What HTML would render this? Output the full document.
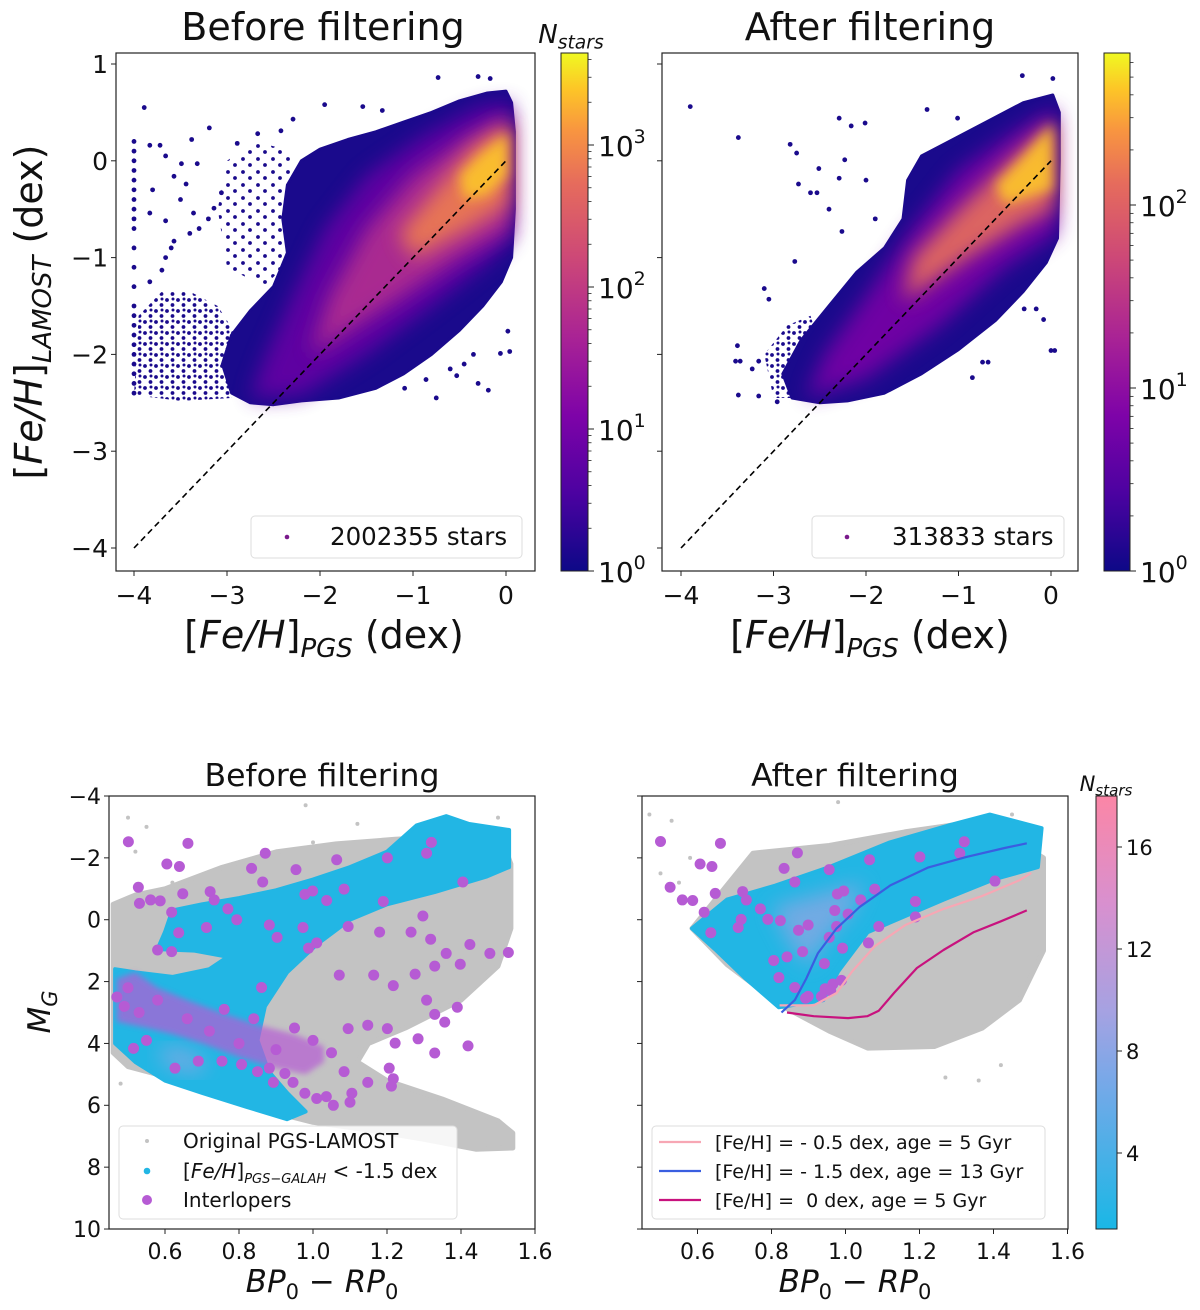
<!DOCTYPE html>
<html><head><meta charset="utf-8">
<style>
html,body{margin:0;padding:0;background:#fff;}
svg{display:block;font-family:"DejaVu Sans","Liberation Sans",sans-serif;}
</style></head>
<body>
<svg id="fig" width="1200" height="1310" viewBox="0 0 1200 1310" xmlns="http://www.w3.org/2000/svg">
<defs>
<linearGradient id="plasma" x1="0" y1="1" x2="0" y2="0">
<stop offset="0" stop-color="#0d0887"/><stop offset="0.15" stop-color="#4c02a1"/><stop offset="0.3" stop-color="#7e03a8"/><stop offset="0.45" stop-color="#a92395"/><stop offset="0.6" stop-color="#cc4778"/><stop offset="0.75" stop-color="#e66c5c"/><stop offset="0.85" stop-color="#f89540"/><stop offset="0.93" stop-color="#fdc527"/><stop offset="1" stop-color="#f0f921"/>
</linearGradient>
<linearGradient id="cyanpink" x1="0" y1="1" x2="0" y2="0">
<stop offset="0" stop-color="#1ab7e6"/><stop offset="0.35" stop-color="#7aa8e8"/><stop offset="0.5" stop-color="#a5a2e2"/><stop offset="0.75" stop-color="#d890cf"/><stop offset="1" stop-color="#fb86a6"/>
</linearGradient>
<pattern id="speckle" x="0" y="0" width="11" height="11" patternUnits="userSpaceOnUse">
<circle cx="2" cy="3" r="1.9" fill="#1a0a8c"/><circle cx="7.5" cy="8" r="1.9" fill="#1a0a8c"/><circle cx="8" cy="2" r="1.5" fill="#1a0a8c"/>
</pattern>
<pattern id="speckle2" x="0" y="0" width="15" height="13" patternUnits="userSpaceOnUse">
<circle cx="3" cy="3" r="1.9" fill="#1a0a8c"/><circle cx="10" cy="9" r="1.9" fill="#1a0a8c"/>
</pattern>
<filter id="blur3" x="-20%" y="-20%" width="140%" height="140%"><feGaussianBlur stdDeviation="3"/></filter>
<filter id="blur6" x="-20%" y="-20%" width="140%" height="140%"><feGaussianBlur stdDeviation="6"/></filter>
<filter id="blur10" x="-20%" y="-20%" width="140%" height="140%"><feGaussianBlur stdDeviation="10"/></filter>
<clipPath id="clipTL"><rect x="116" y="53" width="419" height="518"/></clipPath>
<clipPath id="clipTR"><rect x="662" y="53" width="416" height="518"/></clipPath>
<clipPath id="clipBL"><rect x="109" y="796" width="426" height="433"/></clipPath>
<clipPath id="clipBR"><rect x="642" y="796" width="426" height="433"/></clipPath>
</defs>
<g id="root"></g>
</svg>
<script>
// ---------- data arrays ----------
const tlEnvelope = [[-2.95,-2.4],[-2.75,-2.5],[-2.5,-2.52],[-2.2,-2.48],[-1.8,-2.45],[-1.4,-2.35],[-1.1,-2.2],[-0.8,-2.0],[-0.5,-1.75],[-0.25,-1.5],[-0.05,-1.25],[0.06,-1.0],[0.09,-0.5],[0.09,0.3],[0.06,0.6],[0.0,0.72],[-0.2,0.7],[-0.5,0.62],[-0.8,0.5],[-1.1,0.4],[-1.4,0.3],[-1.7,0.22],[-2.0,0.12],[-2.2,0.0],[-2.35,-0.25],[-2.4,-0.6],[-2.35,-0.95],[-2.5,-1.3],[-2.75,-1.55],[-2.95,-1.8],[-3.05,-2.1]];
const tlSparse1 = [[-4.0,-2.42],[-3.95,-1.6],[-3.7,-1.35],[-3.4,-1.35],[-3.1,-1.5],[-2.9,-1.8],[-2.95,-2.45],[-3.5,-2.48]];
const tlSparse2 = [[-3.0,-1.1],[-3.1,-0.5],[-3.0,0.0],[-2.7,0.2],[-2.3,0.1],[-2.35,-0.6],[-2.3,-1.0],[-2.6,-1.3]];
const tlPurple = [[-2.75,-2.45],[-2.2,-2.42],[-1.5,-2.0],[-0.8,-1.5],[-0.2,-1.05],[0.06,-0.8],[0.06,0.6],[-0.3,0.55],[-0.9,0.25],[-1.5,-0.15],[-1.95,-0.7],[-2.3,-1.4],[-2.6,-2.05]];
const tlMagenta = [[-2.1,-2.0],[-1.2,-1.45],[-0.5,-1.0],[0.05,-0.7],[0.05,0.45],[-0.4,0.25],[-1.0,-0.15],[-1.5,-0.7],[-1.9,-1.4]];
const tlOrange = [[-1.0,-1.0],[-0.4,-0.7],[0.03,-0.45],[0.03,0.4],[-0.35,0.15],[-0.8,-0.35],[-1.15,-0.75]];
const tlYellow = [[-0.45,-0.4],[-0.2,-0.35],[0.02,-0.15],[0.02,0.3],[-0.3,0.05],[-0.5,-0.15]];
const tlColumnY = [0.2,0.1,0.0,-0.1,-0.2,-0.3,-0.4,-0.5,-0.6,-0.7,-0.9,-1.1,-1.3,-1.5,-1.6,-1.7,-1.8,-1.9,-2.0,-2.1,-2.2,-2.3,-2.4];
const tlScatterX = [-3.89,-3.19,-3.83,-3.72,-3.38,-3.66,-3.49,-3.32,-3.57,-3.44,-3.83,-3.66,-3.57,-3.7,-3.83,-3.66,-3.36,-3.14,-3.06,-2.89,-2.67,-2.42,-2.29,-1.95,-1.54,-1.33,-0.73,-0.3,-0.17,0.02,-0.06,0.04,-0.19,-0.3,-0.53,-0.75,-0.86,-1.09,-3.6,-3.4,-3.2,-3.5,-3.8,-3.3,-0.45,-0.6,-0.35];
const tlScatterY = [0.55,0.34,0.16,0.16,0.22,0.05,-0.03,-0.03,-0.16,-0.24,-0.54,-0.62,-0.83,-1.13,-1.25,-1.0,-0.54,-0.49,-0.33,0.18,0.28,0.31,0.43,0.58,0.56,0.52,0.86,0.87,0.85,-1.76,-1.99,-1.97,-2.37,-2.3,-2.22,-2.45,-2.26,-2.35,-0.9,-0.75,-0.6,-0.4,-0.3,-0.7,-2.1,-2.15,-2.0];
const trEnvelope = [[-2.8,-2.45],[-2.5,-2.5],[-2.2,-2.48],[-1.8,-2.4],[-1.4,-2.2],[-1.0,-1.95],[-0.6,-1.65],[-0.3,-1.35],[-0.05,-1.05],[0.07,-0.8],[0.09,0.0],[0.09,0.5],[0.02,0.68],[-0.3,0.6],[-0.7,0.4],[-1.1,0.2],[-1.4,0.05],[-1.55,-0.2],[-1.6,-0.6],[-1.8,-0.9],[-2.1,-1.15],[-2.4,-1.5],[-2.7,-1.85],[-2.9,-2.2]];
const trSparse = [[-3.0,-2.45],[-3.1,-2.0],[-2.85,-1.7],[-2.6,-1.6],[-2.5,-1.9],[-2.8,-2.45]];
const trPurple = [[-2.65,-2.45],[-2.0,-2.25],[-1.2,-1.7],[-0.5,-1.1],[0.06,-0.75],[0.06,0.55],[-0.4,0.3],[-1.0,-0.1],[-1.5,-0.7],[-2.0,-1.4],[-2.45,-2.0]];
const trOrange = [[-1.6,-1.45],[-0.9,-1.0],[-0.3,-0.65],[0.03,-0.5],[0.03,0.4],[-0.4,0.05],[-1.0,-0.5],[-1.5,-1.0]];
const trYellow = [[-0.5,-0.45],[0.02,-0.3],[0.02,0.4],[-0.3,0.05],[-0.6,-0.25]];
const trScatterX = [-3.9,-3.38,-2.29,-2.82,-2.75,-2.51,-2.73,-2.6,-2.53,-2.29,-2.23,-2.16,-2.01,-2.26,-2.77,-3.1,-3.05,-3.39,-3.41,-3.36,-3.23,-3.16,-3.38,-3.16,-2.96,-0.31,0.02,-1.34,-1.01,0.0,0.04,-0.74,-0.68,-0.85,-0.08,-0.29,-0.16,-2.4,-2.0,-1.9];
const trScatterY = [0.56,0.24,0.44,0.17,0.08,-0.08,-0.24,-0.33,-0.33,-0.18,0.01,0.36,0.39,-0.73,-1.04,-1.32,-1.43,-1.91,-2.07,-2.07,-2.15,-2.07,-2.42,-2.43,-2.49,0.88,0.85,0.53,0.44,-1.96,-1.96,-2.08,-2.08,-2.24,-1.64,-1.53,-1.53,-0.5,-0.2,-0.6];
const blGray = [[0.46,-0.5],[0.52,-0.8],[0.6,-1.0],[0.754,-1.69],[0.903,-2.2],[1.063,-2.45],[1.222,-2.6],[1.382,-2.7],[1.51,-2.6],[1.535,-1.8],[1.535,0.28],[1.5,1.5],[1.4,2.6],[1.25,3.5],[1.15,4.0],[1.12,4.6],[1.2,5.2],[1.35,5.8],[1.5,6.5],[1.54,6.9],[1.54,7.38],[1.44,7.42],[1.3,7.1],[1.15,6.8],[1.0,6.55],[0.9,6.25],[0.8,5.9],[0.68,5.45],[0.58,5.0],[0.5,4.75],[0.46,4.3]];
const blCyan = [[0.465,1.6],[0.465,4.0],[0.52,4.6],[0.6,5.2],[0.7,5.6],[0.82,6.05],[0.93,6.45],[0.98,6.2],[0.93,5.6],[0.88,4.9],[0.85,3.9],[0.87,2.8],[0.93,1.7],[1.01,0.8],[1.1,0.0],[1.2,-0.5],[1.33,-0.9],[1.47,-1.4],[1.53,-1.7],[1.53,-2.9],[1.42,-3.1],[1.36,-3.35],[1.28,-3.05],[1.2,-2.2],[1.1,-1.7],[1.0,-1.3],[0.9,-0.95],[0.8,-0.7],[0.7,-0.5],[0.62,-0.3],[0.6,0.4],[0.58,0.95],[0.68,1.0],[0.77,1.2],[0.72,1.6],[0.62,1.85],[0.52,1.7]];
const blLavender = [[0.58,4.1],[0.66,4.2],[0.72,4.7],[0.68,5.0],[0.6,4.7]];
const blGrayDotsX = [0.5,0.55,0.98,1.12,1.5,0.52,1.0,0.48,0.62];
const blGrayDotsY = [-3.3,-3.0,-3.7,-3.1,-3.3,-2.2,-2.5,5.3,-1.2];
const blBlobInterlopers = [[0.47,1.9],[0.52,1.7],[0.58,2.2],[0.66,2.6],[0.75,3.0],[0.85,3.4],[0.95,3.7],[1.03,4.1],[1.03,4.6],[0.98,5.0],[0.9,4.8],[0.8,4.45],[0.7,4.0],[0.62,3.7],[0.55,3.5],[0.47,3.3]];
const blIntX = [0.501,0.662,0.871,0.605,0.639,0.834,0.954,1.064,1.201,1.307,1.32,0.528,0.531,0.561,0.587,0.648,0.618,0.722,0.733,0.77,0.864,0.978,0.999,1.037,1.084,1.19,1.405,1.297,0.794,0.712,0.637,0.58,0.618,0.882,0.903,0.973,1.01,0.988,1.095,1.18,1.265,1.318,1.36,1.424,1.478,1.528,1.329,1.398,1.276,1.164,1.071,0.861,1.217,1.307,1.39,1.329,1.356,1.419,1.329,1.284,1.201,1.222,1.148,1.095,1.206,1.217,1.212,1.148,1.084,1.105,1.1,1.055,1.036,1.01,0.978,0.946,0.924,0.893,0.882,0.85,0.807,0.754,0.69,0.627,0.515,0.49,0.5,0.53,0.76,0.84,0.95,1.0,0.72,0.66,0.58,0.9,1.05,0.8,0.47,0.55];
const blIntY = [-2.52,-2.47,-2.15,-1.8,-1.72,-1.66,-1.62,-1.94,-2.0,-2.15,-2.5,-1.05,-0.53,-0.64,-0.61,-0.84,-0.24,-0.91,-0.64,-0.35,-1.22,-0.82,-0.93,-0.62,-0.99,-0.59,-1.22,-0.12,0.0,0.25,0.42,0.98,1.03,0.17,0.57,0.25,0.75,0.92,0.22,0.4,0.4,0.63,1.09,0.8,1.09,1.06,1.5,1.44,1.76,1.79,1.79,2.19,2.13,2.6,2.83,3.06,3.31,4.08,4.31,3.85,3.52,3.99,3.41,3.52,4.8,5.14,5.38,5.26,4.91,5.61,5.9,6.0,5.72,5.78,5.61,5.26,4.97,5.26,4.8,4.91,4.68,4.57,4.57,4.8,4.16,2.8,2.2,3.0,2.9,3.2,3.5,3.9,3.6,3.2,2.6,4.2,4.3,4.0,2.5,3.9];
const brGray = [[0.585,0.28],[0.75,-2.15],[0.956,-2.4],[1.16,-2.84],[1.37,-3.2],[1.535,-2.0],[1.535,1.0],[1.47,2.6],[1.37,3.5],[1.24,4.1],[1.06,4.15],[0.956,3.6],[0.83,2.8],[0.68,1.45]];
const brCyan = [[0.585,0.28],[0.68,-0.65],[0.81,-1.1],[0.956,-1.7],[1.12,-2.5],[1.285,-3.07],[1.39,-3.4],[1.53,-2.96],[1.52,-1.7],[1.4,-1.3],[1.265,-0.65],[1.06,0.4],[0.98,1.67],[0.94,2.6],[0.82,2.83],[0.73,1.9],[0.647,0.95]];
const brLavender = [[0.8,-0.4],[0.95,-0.9],[1.05,-1.2],[1.02,-0.3],[0.95,0.6],[0.9,1.5],[0.85,0.8]];
const brGrayDotsX = [0.47,0.53,0.58,0.98,1.26,1.45,0.5,0.55,1.27,1.42,1.36];
const brGrayDotsY = [-3.4,-3.2,-2.0,-3.8,-2.8,-3.4,-1.5,-1.2,5.1,4.7,5.2];
const brIntX = [0.5,0.662,0.607,0.639,0.526,0.648,0.559,0.587,0.618,0.636,0.722,0.732,0.77,0.71,0.79,0.824,0.834,0.863,0.87,0.956,0.978,0.995,0.971,1.007,1.041,1.079,1.065,0.873,0.899,0.976,0.956,0.992,1.062,1.09,0.884,0.842,0.82,0.863,0.943,0.966,0.989,0.945,0.96,0.899,0.935,0.892,1.189,1.189,1.201,1.309,1.321,1.404,0.806,0.718];
const brIntY = [-2.53,-2.47,-1.8,-1.72,-1.05,-0.85,-0.64,-0.62,-0.24,0.42,-0.91,-0.64,-0.35,0.25,-0.01,0.03,-1.66,-1.22,-2.16,-1.62,-0.83,-0.93,-0.3,-0.18,-0.64,-0.99,-1.94,0.34,0.17,0.22,0.57,0.92,0.75,0.22,1.03,1.2,1.87,2.19,1.42,2.08,1.96,2.23,2.3,2.48,2.48,2.54,-0.59,-0.09,-2.03,-2.15,-2.52,-1.25,1.32,-0.01];
const isoPinkX = [0.822,0.914,0.976,1.018,1.079,1.162,1.265,1.368,1.471,1.502];
const isoPinkY = [2.77,2.77,2.37,1.67,0.86,0.17,-0.35,-0.76,-1.28,-1.51];
const isoBlueX = [0.827,0.863,0.894,0.925,0.976,1.038,1.121,1.224,1.327,1.43,1.49];
const isoBlueY = [3.0,2.6,1.9,1.09,0.28,-0.41,-1.11,-1.69,-2.03,-2.32,-2.47];
const isoMagX = [0.842,0.914,1.007,1.059,1.09,1.131,1.193,1.265,1.347,1.42,1.49];
const isoMagY = [3.0,3.12,3.18,3.12,2.94,2.37,1.56,0.98,0.4,0.05,-0.3];
const feTicks = [-4,-3,-2,-1,0];
const feYTicks = [1,0,-1,-2,-3,-4];
const colTicks = [0.6,0.8,1.0,1.2,1.4,1.6];
const mgTicks = [-4,-2,0,2,4,6,8,10];
const cbLogTL = [0,1,2,3];
const cbLogTR = [0,1,2];
const cbLinBR = [4,8,12,16];

// ---------- scales ----------
const xTL = v => 134 + (v + 4) * 93;
const xTR = v => 681 + (v + 4) * 92.5;
const yTop = v => 548 - (v + 4) * 96.8;
const xBL = v => 165 + (v - 0.6) * 370;
const xBR = v => 697.5 + (v - 0.6) * 370;
const yBot = v => 796 + (v + 4) * 30.93;
const cbTL = v => 571 - v * 142;
const cbTR = v => 571 - v * 183;
const cbBR = v => 1153 - (v - 4) * 25.5;

const NS = "http://www.w3.org/2000/svg";
const root = document.getElementById('root');
function mk(tag, parent) { const e = document.createElementNS(NS, tag); parent.appendChild(e); return e; }
function set(e, o) { for (const k in o) e.setAttribute(k, o[k]); return e; }
function polyStr(arr, fx, fy) { return arr.map(p => fx(p[0]).toFixed(1) + ',' + fy(p[1]).toFixed(1)).join(' '); }
function pathStr(xs, ys, fx, fy) { return xs.map((x, i) => (i ? 'L' : 'M') + fx(x).toFixed(1) + ',' + fy(ys[i]).toFixed(1)).join(''); }
function txt(parent, x, y, s, size, anchor) {
  const t = mk('text', parent);
  set(t, { x: x, y: y, 'font-size': size, 'text-anchor': anchor || 'middle', fill: '#111' });
  t.textContent = s;
  return t;
}

function densityPanel(gName, clip, fx, env, sparse, layers, colX, scX, scY) {
  const g = mk('g', root);
  
  
  set(g, { 'clip-path': 'url(#' + clip + ')' });
  sparse.forEach((S, i) => {
    const s = mk('polygon', g);
    
    
    set(s, { points: polyStr(S, fx, yTop), fill: i % 2 ? 'url(#speckle2)' : 'url(#speckle)' });
  });
  const e = mk('polygon', g);
  
  
  set(e, { points: polyStr(env, fx, yTop), fill: '#1a0a8c', stroke: '#1a0a8c', 'stroke-width': 3, 'stroke-linejoin': 'round' });
  layers.forEach(L => {
    const p = mk('polygon', g);
    
    
    set(p, { points: polyStr(L[0], fx, yTop), fill: L[1], filter: 'url(#' + L[2] + ')', opacity: L[3] });
  });
  if (colX !== null) {
    tlColumnY.forEach(v => {
      const c = mk('circle', g);
      
      
      set(c, { cx: fx(colX), cy: yTop(v), r: 2.4, fill: '#1a0a8c' });
    });
  }
  scX.forEach((x, i) => {
    const c = mk('circle', g);
    
    
    set(c, { cx: fx(x), cy: yTop(scY[i]), r: 2.4, fill: '#1a0a8c' });
  });
  const d = mk('line', g);
  
  
  set(d, { x1: fx(-4), y1: yTop(-4), x2: fx(0), y2: yTop(0), stroke: '#000', 'stroke-width': 1.6, 'stroke-dasharray': '6,4' });
}
densityPanel('before-filter-density', 'clipTL', xTL, tlEnvelope, [tlSparse1, tlSparse2],
  [[tlPurple, '#6a03a6', 'blur10', 0.85], [tlMagenta, '#b7308e', 'blur10', 0.85], [tlOrange, '#ee7d50', 'blur10', 0.9], [tlYellow, '#fcc52b', 'blur6', 0.9]],
  -4, tlScatterX, tlScatterY);
densityPanel('after-filter-density', 'clipTR', xTR, trEnvelope, [trSparse],
  [[trPurple, '#7e03a8', 'blur10', 0.85], [trOrange, '#e8705a', 'blur10', 0.9], [trYellow, '#fcc52b', 'blur6', 0.9]],
  null, trScatterX, trScatterY);

function axesFrame(name, x, y, w, h) {
  const r = mk('rect', root);
  
  
  set(r, { x: x, y: y, width: w, height: h, fill: 'none', stroke: '#222', 'stroke-width': 1.2 });
}
function xTicks(ticks, fx, yb, labels, size, gap) {
  ticks.forEach(v => {
    const l = mk('line', root);
    
    
    set(l, { x1: fx(v), x2: fx(v), y1: yb, y2: yb + 5, stroke: '#222', 'stroke-width': 1 });
    const t = txt(root, fx(v), yb + gap, labels(v), size);
    
    
  });
}
function yTicks(ticks, fy, xl, labels, size) {
  ticks.forEach(v => {
    const l = mk('line', root);
    
    
    set(l, { x1: xl - 5, x2: xl, y1: fy(v), y2: fy(v), stroke: '#222', 'stroke-width': 1 });
    if (labels) {
      const t = txt(root, xl - 8, fy(v) + size * 0.36, labels(v), size, 'end');
      
      
    }
  });
}
const minus = v => (v < 0 ? '\u2212' + Math.abs(v) : '' + v);

axesFrame('before-filter-axes', 116, 53, 419, 518);
axesFrame('after-filter-axes', 662, 53, 416, 518);
xTicks(feTicks, xTL, 571, minus, 25, 33);
xTicks(feTicks, xTR, 571, minus, 25, 33);
yTicks(feYTicks, yTop, 116, minus, 25);
yTicks(feYTicks, yTop, 662, null, 25);

function colorbar(name, x, y, w, h, grad) {
  const r = mk('rect', root);
  
  
  set(r, { x: x, y: y, width: w, height: h, fill: 'url(#' + grad + ')', stroke: '#222', 'stroke-width': 1 });
}
colorbar('colorbar-before', 561, 53, 27, 518, 'plasma');
colorbar('colorbar-after', 1104, 53, 26, 518, 'plasma');
function logTicks(list, fy, xr, topVal) {
  list.forEach(v => {
    const l = mk('line', root);
    
    
    set(l, { x1: xr, x2: xr + 6, y1: fy(v), y2: fy(v), stroke: '#222', 'stroke-width': 1 });
    const t = mk('text', root);
    
    
    set(t, { x: xr + 10, y: fy(v) + 11, 'font-size': 28, fill: '#111' });
    t.textContent = '10';
    const s = mk('tspan', t);
    set(s, { dy: -13, 'font-size': 19 });
    s.textContent = '' + v;
    for (let k = 2; k <= 9; k++) {
      const lv = v + Math.log10(k);
      if (lv > topVal) break;
      const m = mk('line', root);
      
      
      set(m, { x1: xr, x2: xr + 3.5, y1: fy(lv), y2: fy(lv), stroke: '#222', 'stroke-width': 0.8 });
    }
  });
}
logTicks(cbLogTL, cbTL, 588, 3.65);
logTicks(cbLogTR, cbTR, 1130, 2.83);

function dotLegend(name, x, y, w, h, dotx, textx, label) {
  const g = mk('g', root);
  
  
  const r = mk('rect', g);
  set(r, { x: x, y: y, width: w, height: h, rx: 4, fill: '#fff', 'fill-opacity': 0.85, stroke: '#ddd', 'stroke-width': 1 });
  const c = mk('circle', g);
  set(c, { cx: dotx, cy: y + h / 2, r: 2.3, fill: '#7a1a8c' });
  txt(g, textx, y + h / 2 + 8, label, 24.5, 'start');
}
dotLegend('legend-before', 251, 516, 271, 42, 287, 330, '2002355 stars');
dotLegend('legend-after', 812, 516, 252, 42, 847, 892, '313833 stars');

let t;
t = txt(root, 323, 40, 'Before filtering', 38);  
t = txt(root, 870, 40, 'After filtering', 38);  
function nstars(x, y, size) {
  const e = mk('text', root);
  
  
  set(e, { x: x, y: y, 'font-size': size, 'font-style': 'italic', 'text-anchor': 'middle', fill: '#111' });
  e.textContent = 'N';
  const s = mk('tspan', e); set(s, { 'font-size': size * 0.72, dy: size * 0.22 }); s.textContent = 'stars';
}
nstars(571, 43, 26);
nstars(1106, 791, 21);
function feLabel(x, y, sub, name, rot) {
  const e = mk('text', root);
  
  
  set(e, { x: x, y: y, 'font-size': 38, 'text-anchor': 'middle', fill: '#111' });
  if (rot) e.setAttribute('transform', 'rotate(-90 ' + x + ' ' + y + ')');
  const a = mk('tspan', e); a.textContent = '[';
  const b = mk('tspan', e); set(b, { 'font-style': 'italic' }); b.textContent = 'Fe/H';
  const c = mk('tspan', e); c.textContent = ']';
  const d = mk('tspan', e); set(d, { 'font-style': 'italic', 'font-size': 26, dy: 9 }); d.textContent = sub;
  const f = mk('tspan', e); set(f, { dy: -9 }); f.textContent = ' (dex)';
}
feLabel(324, 648, 'PGS', 'x-axis-title-before', false);
feLabel(870, 648, 'PGS', 'x-axis-title-after', false);
feLabel(42, 312, 'LAMOST', 'y-axis-title-top', true);

function cmdPanel(name, clip, fx, gray, cyan, lav, gdx, gdy, ix, iy, blob) {
  const g = mk('g', root);
  
  
  set(g, { 'clip-path': 'url(#' + clip + ')' });
  const gp = mk('polygon', g);
  
  
  set(gp, { points: polyStr(gray, fx, yBot), fill: '#c3c3c3', stroke: '#c3c3c3', 'stroke-width': 5, 'stroke-linejoin': 'round' });
  gdx.forEach((x, i) => {
    const c = mk('circle', g);
    
    
    set(c, { cx: fx(x), cy: yBot(gdy[i]), r: 2, fill: '#c3c3c3' });
  });
  const cp = mk('polygon', g);
  
  
  set(cp, { points: polyStr(cyan, fx, yBot), fill: '#22b6e4', stroke: '#22b6e4', 'stroke-width': 4, 'stroke-linejoin': 'round' });
  const lp = mk('polygon', g);
  
  
  set(lp, { points: polyStr(lav, fx, yBot), fill: '#a7a3e3', filter: 'url(#blur10)', opacity: 0.6 });
  if (blob) {
    const bp = mk('polygon', g);
    
    
    set(bp, { points: polyStr(blob, fx, yBot), fill: '#b65bd4', opacity: 0.7, filter: 'url(#blur3)' });
  }
  ix.forEach((x, i) => {
    const c = mk('circle', g);
    
    
    set(c, { cx: fx(x), cy: yBot(iy[i]), r: 5.5, fill: '#b65bd4' });
  });
  return g;
}
cmdPanel('cmd-before', 'clipBL', xBL, blGray, blCyan, blLavender, blGrayDotsX, blGrayDotsY, blIntX, blIntY, blBlobInterlopers);
const gBR = cmdPanel('cmd-after', 'clipBR', xBR, brGray, brCyan, brLavender, brGrayDotsX, brGrayDotsY, brIntX, brIntY, null);
[[isoPinkX, isoPinkY, '#f7a7b4', 'isochrone-feh-minus-0.5'], [isoBlueX, isoBlueY, '#3a5ee0', 'isochrone-feh-minus-1.5'], [isoMagX, isoMagY, '#c8127e', 'isochrone-feh-0']].forEach(s => {
  const p = mk('path', gBR);
  
  
  set(p, { d: pathStr(s[0], s[1], xBR, yBot), fill: 'none', stroke: s[2], 'stroke-width': 2.2, 'stroke-linejoin': 'round' });
});

axesFrame('cmd-before-axes', 109, 796, 426, 433);
axesFrame('cmd-after-axes', 642, 796, 426, 433);
const fmt1 = v => v.toFixed(1);
xTicks(colTicks, xBL, 1229, fmt1, 22, 30);
xTicks(colTicks, xBR, 1229, fmt1, 22, 30);
yTicks(mgTicks, yBot, 109, minus, 22);
yTicks(mgTicks, yBot, 642, null, 22);

colorbar('colorbar-cmd', 1096, 796, 21, 433, 'cyanpink');
cbLinBR.forEach(v => {
  const l = mk('line', root);
  
  
  set(l, { x1: 1117, x2: 1122, y1: cbBR(v), y2: cbBR(v), stroke: '#222', 'stroke-width': 1 });
  const tt = txt(root, 1126, cbBR(v) + 8, '' + v, 21, 'start');
  
  
});

t = txt(root, 322, 786, 'Before filtering', 31.5);  
t = txt(root, 855, 786, 'After filtering', 31.5);  
function bpLabel(x, y, name) {
  const e = mk('text', root);
  
  
  set(e, { x: x, y: y, 'font-size': 31, 'text-anchor': 'middle', fill: '#111', 'font-style': 'italic' });
  const a = mk('tspan', e); a.textContent = 'BP';
  const b = mk('tspan', e); set(b, { 'font-size': 21, dy: 7, 'font-style': 'normal' }); b.textContent = '0';
  const c = mk('tspan', e); set(c, { dy: -7, 'font-style': 'normal' }); c.textContent = ' \u2212 ';
  const d = mk('tspan', e); d.textContent = 'RP';
  const f = mk('tspan', e); set(f, { 'font-size': 21, dy: 7, 'font-style': 'normal' }); f.textContent = '0';
}
bpLabel(322, 1292, 'x-axis-title-cmd-before');
bpLabel(855, 1292, 'x-axis-title-cmd-after');
(function () {
  const e = mk('text', root);
  
  
  set(e, { x: 50, y: 1012, 'font-size': 31, 'text-anchor': 'middle', 'font-style': 'italic', fill: '#111', transform: 'rotate(-90 50 1012)' });
  e.textContent = 'M';
  const s = mk('tspan', e); set(s, { 'font-size': 21, dy: 7 }); s.textContent = 'G';
})();

(function () {
  const g = mk('g', root);
  
  
  const r = mk('rect', g);
  set(r, { x: 119, y: 1126, width: 338, height: 93, rx: 4, fill: '#fff', 'fill-opacity': 0.85, stroke: '#ddd' });
  const rows = [[1141, '#c3c3c3', 2, 'Original PGS-LAMOST'], [1171, '#22b6e4', 3.3, null], [1200, '#b65bd4', 5, 'Interlopers']];
  rows.forEach(rw => {
    const c = mk('circle', g);
    
    
    set(c, { cx: 147, cy: rw[0], r: rw[2], fill: rw[1] });
    const e = mk('text', g);
    
    
    set(e, { x: 183, y: rw[0] + 7, 'font-size': 20, fill: '#111' });
    if (rw[3]) { e.textContent = rw[3]; }
    else {
      const a = mk('tspan', e); a.textContent = '[';
      const b = mk('tspan', e); set(b, { 'font-style': 'italic' }); b.textContent = 'Fe/H';
      const c2 = mk('tspan', e); c2.textContent = ']';
      const d = mk('tspan', e); set(d, { 'font-style': 'italic', 'font-size': 13, dy: 5 }); d.textContent = 'PGS\u2212GALAH';
      const f = mk('tspan', e); set(f, { dy: -5 }); f.textContent = ' < -1.5 dex';
    }
  });
})();
(function () {
  const g = mk('g', root);
  
  
  const r = mk('rect', g);
  set(r, { x: 652, y: 1126, width: 393, height: 93, rx: 4, fill: '#fff', 'fill-opacity': 0.85, stroke: '#ddd' });
  const rows = [[1142, '#f7a7b4', '[Fe/H] = - 0.5 dex, age = 5 Gyr'], [1171, '#3a5ee0', '[Fe/H] = - 1.5 dex, age = 13 Gyr'], [1200, '#c8127e', '[Fe/H] =  0 dex, age = 5 Gyr']];
  rows.forEach(rw => {
    const l = mk('line', g);
    
    
    set(l, { x1: 659, x2: 701, y1: rw[0], y2: rw[0], stroke: rw[1], 'stroke-width': 2.2 });
    const e = mk('text', g);
    
    
    set(e, { x: 715, y: rw[0] + 7, 'font-size': 19, fill: '#111' });
    e.style.whiteSpace = 'pre';
    e.textContent = rw[2];
  });
})();
</script>
</body></html>
